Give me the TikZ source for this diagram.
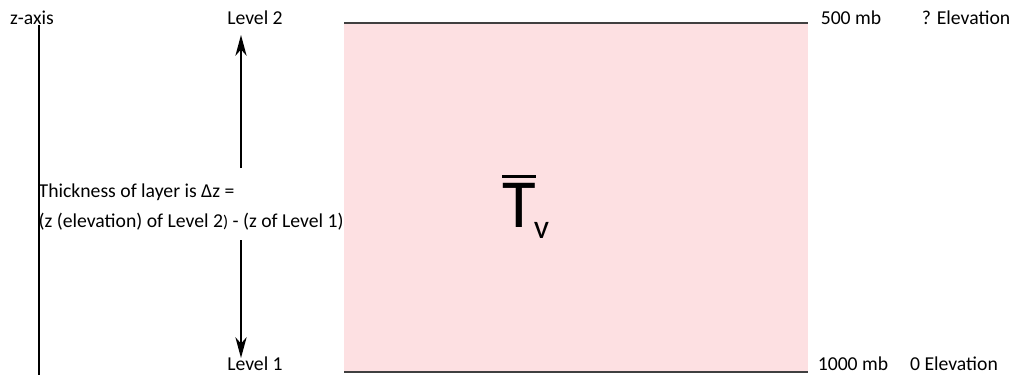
\documentclass[tikz,border=0pt]{standalone}
\usepackage{fontspec}
\usepackage{amsmath}
\setmainfont{Carlito}
\usetikzlibrary{arrows.meta,positioning}
\tikzset{
  levelarrow/.style={-{Stealth[length=5.2mm,width=2.8mm,inset=1.6mm]}, line width=1.6pt, draw=black},
  boundline/.style={line width=1.2pt, draw=black!75},
  axisline/.style={line width=0.9pt, draw=black},
  axislabel/.style={font=\fontsize{14}{16}\selectfont, inner sep=1pt}
}
\definecolor{LayerPink}{HTML}{FDE0E2}

\begin{document}
\begin{tikzpicture}[x=0.025cm, y=-0.025cm]
\useasboundingbox (0,0) rectangle (1011,375);

% layer between the two pressure levels
\coordinate (layertl) at (344,23);
\coordinate (layertr) at (808,23);
\coordinate (layerbl) at (344,372);
\coordinate (layerbr) at (808,372);
\fill[LayerPink] (layertl) rectangle (layerbr);
\draw[boundline] (layertl) -- (layertr);
\draw[boundline] (layerbl) -- (layerbr);
\node[inner sep=0pt, anchor=base west] (tmean) at (502,227)
  {\fontsize{49}{50}\selectfont\makebox[0pt][l]{\raisebox{34.5pt}{\rule{23.8pt}{2.2pt}}}T\kern-1.5pt{\fontsize{24}{24}\selectfont\raisebox{-8.5pt}{v}}};

% vertical axis
\node[axislabel] (zlabel) at (32,18) {z-axis};
\coordinate (ztop) at (39,25);
\coordinate (zbot) at (39,375);
\draw[axisline] (ztop) -- (zbot);

% level labels and thickness arrows
\node[axislabel] (lvltwo) at (255,18) {Level 2};
\node[axislabel] (lvlone) at (255,364) {Level 1};
\node[axislabel, align=left, anchor=west, font=\fontsize{14}{21}\selectfont] (thick) at (37,207)
  {Thickness of layer is Δz =\\(z (elevation) of Level 2{\large)} - (z of Level 1)};
\coordinate (upfrom) at (241,168);
\coordinate (upto) at (241,35);
\coordinate (downfrom) at (241,240);
\coordinate (downto) at (241,358);
\draw[levelarrow] (upfrom) -- (upto);
\draw[levelarrow] (downfrom) -- (downto);

% pressure and elevation labels
\node[axislabel] (mbtop) at (851,18) {500 mb};
\node[axislabel] (elevtop) at (966,18) {? Elevation};
\node[axislabel] (mbbot) at (853,364) {1000 mb};
\node[axislabel] (elevbot) at (954,364) {0 Elevation};
\end{tikzpicture}
\end{document}
